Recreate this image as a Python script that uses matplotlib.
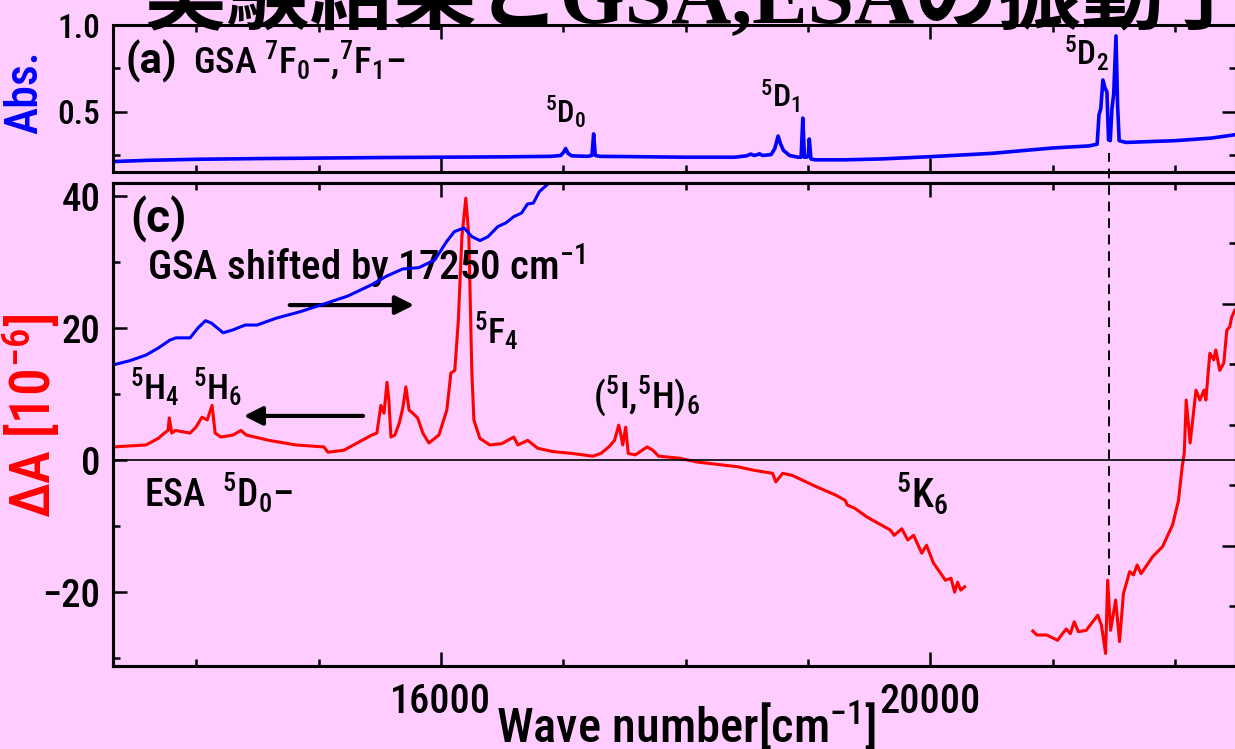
import matplotlib
matplotlib.use("Agg")
import matplotlib.pyplot as plt
from matplotlib.lines import Line2D
from matplotlib.ticker import MultipleLocator, NullFormatter
from matplotlib.transforms import blended_transform_factory

PINK = "#ffccff"
COND = ["Roboto Condensed", "DejaVu Sans"]

plt.rcParams.update({
    "font.family": COND,
    "font.weight": 500,
    "mathtext.fontset": "custom",
    "mathtext.rm": "Roboto Condensed:medium",
    "mathtext.it": "Roboto Condensed:medium",
    "mathtext.bf": "Roboto Condensed:bold",
    "axes.linewidth": 2.2,
})

# (a) GSA absorbance
gsa_wn = [13320, 13600, 14000, 14500, 15000, 15500, 16000, 16500, 16900, 16980,
          17005, 17020, 17040, 17070, 17200, 17235, 17249, 17262, 17300, 17600,
          18000, 18400, 18500, 18534, 18560, 18590, 18604, 18630, 18700, 18730,
          18757, 18775, 18800, 18850, 18920, 18945, 18959, 18972, 18990, 19003,
          19012, 19025, 19060, 19300, 19600, 20000, 20500, 21000, 21300, 21365,
          21380, 21395, 21412, 21428, 21445, 21458, 21472, 21486, 21500, 21519,
          21532, 21545, 21600, 22000, 22300, 22500]
gsa_abs = [0.215, 0.222, 0.228, 0.232, 0.235, 0.238, 0.240, 0.242, 0.245, 0.250,
           0.270, 0.290, 0.262, 0.248, 0.245, 0.250, 0.374, 0.250, 0.245, 0.243,
           0.240, 0.240, 0.248, 0.258, 0.250, 0.255, 0.260, 0.250, 0.255, 0.290,
           0.362, 0.320, 0.280, 0.250, 0.240, 0.240, 0.465, 0.240, 0.240, 0.245,
           0.345, 0.230, 0.225, 0.225, 0.230, 0.243, 0.262, 0.293, 0.305, 0.315,
           0.483, 0.520, 0.684, 0.640, 0.615, 0.340, 0.335, 0.520, 0.600, 0.937,
           0.540, 0.335, 0.325, 0.335, 0.350, 0.370]

# (c) ESA, delta A in 1e-6, two measured ranges
esa1_wn = [13320, 13590, 13690, 13740, 13770, 13780, 13800, 13830, 13950, 13998,
           14047, 14090, 14130, 14155, 14203, 14300, 14366, 14410, 14595, 14815,
           15044, 15077, 15208, 15306, 15436, 15477, 15510, 15535, 15560, 15575,
           15592, 15624, 15660, 15690, 15714, 15740, 15771, 15810, 15853, 15902,
           15984, 16049, 16082, 16114, 16143, 16172, 16204, 16229, 16253, 16270,
           16319, 16400, 16498, 16596, 16630, 16710, 16792, 16915, 17078, 17242,
           17307, 17373, 17420, 17454, 17470, 17487, 17511, 17532, 17590, 17686,
           17733, 17780, 17945, 18100, 18425, 18548, 18712, 18738, 18794, 18871,
           19066, 19228, 19306, 19322, 19384, 19482, 19578, 19674, 19706, 19768,
           19817, 19865, 19931, 19970, 20027, 20076, 20124, 20170, 20200, 20224,
           20250, 20282]
esa1_da = [2.0, 2.3, 3.3, 4.1, 4.5, 6.4, 4.1, 4.5, 4.1, 5.0,
           6.5, 6.1, 8.3, 4.1, 3.5, 3.8, 4.5, 3.8, 3.0, 2.3,
           2.0, 1.2, 1.5, 2.5, 3.8, 4.1, 8.3, 7.1, 11.8, 9.1,
           3.5, 3.8, 5.6, 8.0, 11.1, 7.6, 7.1, 6.4, 4.1, 2.6,
           3.8, 7.6, 13.2, 13.6, 21.2, 33.8, 39.7, 33.8, 13.6, 6.1,
           3.3, 2.3, 2.5, 3.5, 2.3, 3.0, 1.8, 1.3, 1.0, 0.6,
           1.0, 2.0, 3.0, 5.3, 4.0, 2.3, 5.0, 1.0, 0.8, 2.0,
           1.5, 0.6, 0.3, -0.3, -1.0, -1.5, -2.0, -3.3, -2.0, -2.3,
           -4.0, -5.3, -6.1, -6.8, -7.3, -8.6, -9.6, -10.6, -11.4, -10.4,
           -12.1, -11.4, -14.1, -12.9, -15.6, -16.9, -18.2, -17.9, -20.0, -18.5,
           -19.7, -19.2]
esa2_wn = [20839, 20871, 20952, 21042, 21081, 21113, 21146, 21178, 21211, 21275,
           21370, 21400, 21434, 21451, 21475, 21516, 21548, 21580, 21631, 21662,
           21692, 21724, 21820, 21900, 21982, 22030, 22060, 22077, 22093, 22125,
           22173, 22205, 22238, 22254, 22286, 22318, 22335, 22367, 22400, 22425,
           22449, 22465, 22490]
esa2_da = [-25.9, -26.5, -26.5, -27.3, -26.3, -25.6, -26.3, -24.5, -26.0, -25.8,
           -23.5, -25.0, -29.3, -18.2, -25.8, -21.2, -27.5, -20.2, -16.9, -17.4,
           -15.9, -17.2, -14.6, -13.1, -9.8, -6.1, -1.0, 1.0, 9.1, 2.6,
           10.6, 9.1, 10.6, 9.1, 16.2, 15.2, 16.7, 13.6, 14.7, 19.7,
           20.2, 21.7, 22.7]

# GSA shifted by 17250 cm-1 (right axis, arb.)
shift_wn = [13320, 13460, 13590, 13690, 13786, 13835, 13950, 14015, 14076, 14125,
            14220, 14300, 14400, 14497, 14658, 14850, 15044, 15240, 15432, 15560,
            15690, 15820, 15950, 16046, 16110, 16190, 16255, 16320, 16385, 16466,
            16531, 16596, 16660, 16708, 16756, 16805, 16866]
shift_abs = [1.748, 1.766, 1.789, 1.818, 1.851, 1.860, 1.860, 1.901, 1.931, 1.921,
             1.881, 1.893, 1.913, 1.913, 1.942, 1.968, 2.000, 2.033, 2.079, 2.116,
             2.145, 2.150, 2.182, 2.257, 2.299, 2.314, 2.278, 2.262, 2.278, 2.320,
             2.335, 2.361, 2.376, 2.413, 2.417, 2.464, 2.492]

ref_line_wn = 21460

W, H = 1235, 749
fig = plt.figure(figsize=(W / 100, H / 100), dpi=100, facecolor=PINK)
ax1 = fig.add_axes([113 / W, 1 - 172 / H, 1123 / W, 147 / H], facecolor=PINK)
ax2 = fig.add_axes([113 / W, 1 - 666 / H, 1123 / W, 483 / H], facecolor=PINK)
ax2r = ax2.twinx()

for ax in (ax1, ax2, ax2r):
    ax.set_xlim(13320, 22500)
    ax.xaxis.set_major_locator(MultipleLocator(4000))
    ax.xaxis.set_minor_locator(MultipleLocator(1000))
    ax.tick_params(which="both", direction="in", width=1.8, top=True)
    ax.tick_params(which="major", length=10)
    ax.tick_params(which="minor", length=5)

# top panel
ax1.plot(gsa_wn, gsa_abs, color="#0000ff", lw=2.6)
ax1.set_ylim(0.155, 1.0)
ax1.yaxis.set_major_locator(MultipleLocator(0.5))
ax1.yaxis.set_minor_locator(MultipleLocator(0.25))
ax1.yaxis.set_major_formatter(lambda v, p: f"{v:.1f}")
ax1.tick_params(which="both", right=True, labelbottom=False)
ax1.tick_params(axis="y", labelsize=24, pad=9)

# bottom panel
ax2.plot(esa1_wn, esa1_da, color="#ff0000", lw=2.2)
ax2.plot(esa2_wn, esa2_da, color="#ff0000", lw=2.2)
ax2.axhline(0, color="k", lw=1.2)
ax2.set_ylim(-31.2, 42)
ax2.yaxis.set_major_locator(MultipleLocator(20))
ax2.yaxis.set_minor_locator(MultipleLocator(10))
ax2.yaxis.set_major_formatter(lambda v, p: f"{v:.0f}".replace("-", "\u2212"))
ax2.tick_params(which="both", right=False)
ax2.tick_params(axis="y", labelsize=28, pad=9)
ax2.tick_params(axis="x", labelsize=29, pad=12)

ax2r.plot(shift_wn, shift_abs, color="#0000ff", lw=2.2)
ax2r.set_ylim(0.504, 2.5)
ax2r.yaxis.set_major_locator(MultipleLocator(1.0))
ax2r.yaxis.set_minor_locator(MultipleLocator(0.25))
ax2r.yaxis.set_major_formatter(NullFormatter())
ax2r.tick_params(which="both", direction="in", width=1.8, top=False, labelright=False)
ax2r.tick_params(axis="x", labelbottom=False)

# dashed guide through both panels
trans = blended_transform_factory(ax2.transData, fig.transFigure)
fig.add_artist(Line2D([ref_line_wn, ref_line_wn], [1 - 575 / H, 1 - 153 / H],
                      transform=trans, color="k", lw=1.4, ls=(0, (5, 3.5))))

# annotations
ax1.text(13426, 0.724, "(a)", fontsize=30, fontweight="bold",
         family=["Roboto", "DejaVu Sans"])
ax1.text(13974, 0.724, "GSA $^7$F$_0$–,$^7$F$_1$–", fontsize=26.5)
ax1.text(16850, 0.437, "$^5$D$_0$", fontsize=22)
ax1.text(18606, 0.529, "$^5$D$_1$", fontsize=23)
ax1.text(21098, 0.77, "$^5$D$_2$", fontsize=24)

ax2.text(13459, 34.5, "(c)", fontsize=33, fontweight="bold",
         family=["Roboto", "DejaVu Sans"])
ax2.text(13598, 27.3, "GSA shifted by 17250 cm$^{-1}$", fontsize=29.5)
ax2.text(16270, 17.7, "$^5$F$_4$", fontsize=25.5)
ax2.text(13459, 9.1, "$^5$H$_4$", fontsize=25.5)
ax2.text(13974, 9.1, "$^5$H$_6$", fontsize=25.5)
ax2.text(17242, 8.0, "($^5$I,$^5$H)$_6$", fontsize=26.5)
ax2.text(13573, -7.1, "ESA  $^5$D$_0$–", fontsize=27)
ax2.text(19717, -7.3, "$^5$K$_6$", fontsize=28.5)

arrow = dict(arrowstyle="-|>", color="k", lw=3, mutation_scale=28)
ax2.annotate("", xy=(15804, 23.5), xytext=(14742, 23.5), arrowprops=arrow)
ax2.annotate("", xy=(14366, 6.7), xytext=(15387, 6.7), arrowprops=arrow)

# axis titles
fig.text(25 / W, 1 - 92 / H, "Abs.", color="#0000ff", fontsize=33,
         rotation=90, ha="center", va="center")
fig.text(31 / W, 1 - 416 / H, "ΔA [10$^{-6}$]", color="#ff0000", fontsize=40,
         rotation=90, ha="center", va="center")
fig.text(686 / W, 1 - 743 / H, "Wave number[cm$^{-1}$]", fontsize=35,
         ha="center", va="baseline")

# slide title, cut by the top edge
fig.text(143 / W, 1 - 23 / H, "実験結果とGSA,ESAの振動子", fontsize=60,
         fontweight="bold", family=["Liberation Serif", "Noto Sans CJK JP"],
         ha="left", va="baseline")

fig.savefig("out.png", dpi=100, facecolor=PINK)
